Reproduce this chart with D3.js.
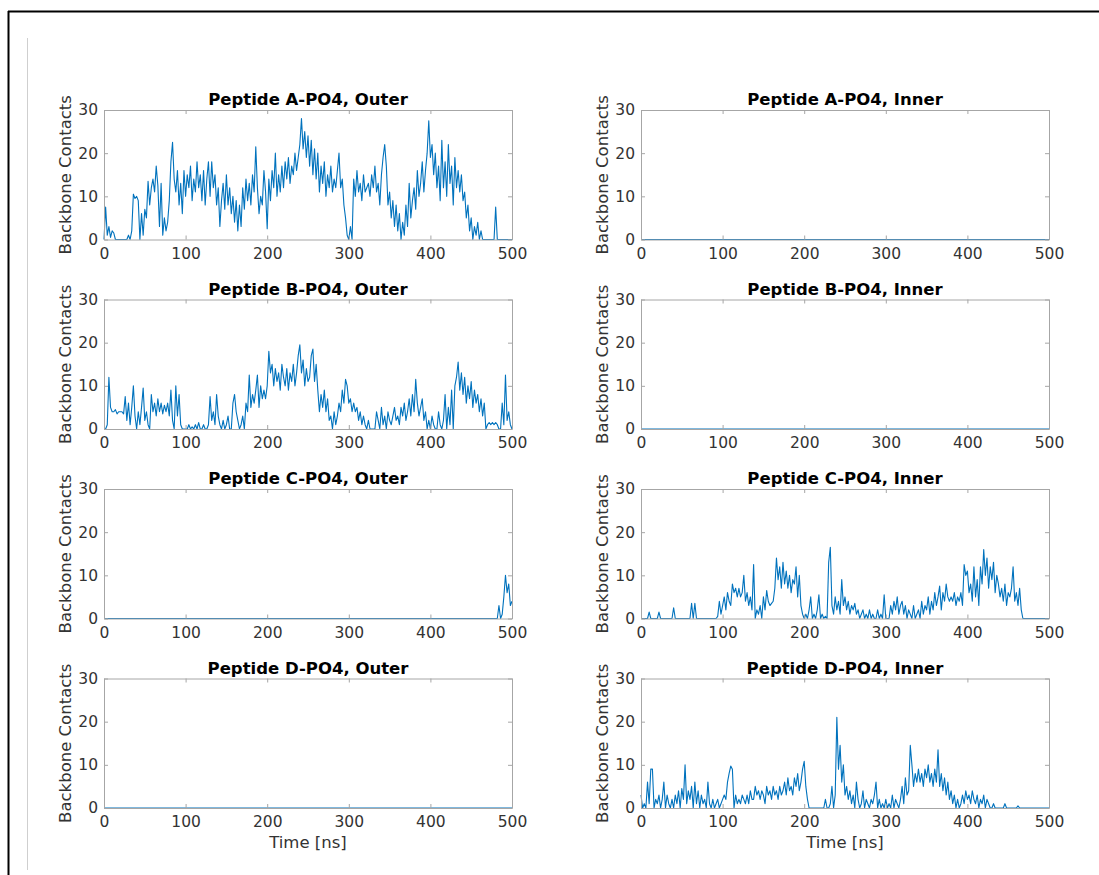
<!DOCTYPE html>
<html>
<head>
<meta charset="utf-8">
<script src="https://cdn.jsdelivr.net/npm/d3@7"></script>
<style>
  html, body { margin: 0; padding: 0; background: #fff; }
  svg { display: block; }
  text { font-family: "DejaVu Sans", sans-serif; }
</style>
</head>
<body>
<svg id="chart" width="1099" height="875"></svg>
<script>
const xTicks = [0, 100, 200, 300, 400, 500];
const yTicks = [0, 10, 20, 30];
const xLabel = "Time [ns]";
const yLabel = "Backbone Contacts";
const titles = [
  "Peptide A-PO4, Outer", "Peptide A-PO4, Inner",
  "Peptide B-PO4, Outer", "Peptide B-PO4, Inner",
  "Peptide C-PO4, Outer", "Peptide C-PO4, Inner",
  "Peptide D-PO4, Outer", "Peptide D-PO4, Inner"
];

const aOuter = [
  0, 7.5, 1, 3, 0.5, 2, 1.5, 0, 0, 0,
  0, 0, 0, 0, 0, 1, 0, 2, 10.5, 9.5,
  10, 9, 0, 6, 1, 7, 5, 13.5, 8, 12,
  14, 11, 17, 12.5, 3, 13, 1, 5, 2, 4,
  9, 18, 22.5, 14, 11, 16, 8, 13, 6, 16,
  10, 15, 12, 17, 9, 14, 11, 18, 12, 15,
  9, 16, 8, 14, 18, 10, 18, 12, 15, 8,
  12, 3, 9, 13, 7, 15, 8, 12, 6, 10,
  4, 9, 2, 8, 3, 12, 7, 14, 9, 13,
  8, 15, 11, 21.5, 12, 6, 10, 8, 16, 11,
  2.5, 14, 9, 16, 12, 20, 10, 15, 11, 17,
  12, 18, 14, 19, 13, 17, 15, 20, 16, 19,
  22, 28, 21, 25, 19, 24, 17, 23, 15, 21,
  14, 20, 11, 17, 13, 18, 10, 15, 12, 17,
  11, 14, 12, 16, 20, 12, 14, 8, 5, 1,
  0, 3, 0, 14, 10, 16, 11, 13, 9, 15,
  11, 12, 13, 10, 15, 12, 17, 11, 13, 8,
  15, 19, 22, 17, 8, 11, 5, 9, 3, 8,
  2, 6, 0, 4, 1, 8, 3, 13, 5, 9,
  12, 7, 16, 10, 13, 18, 11, 16, 20, 27.5,
  19, 22, 15, 20, 12, 17, 9, 23, 12, 18,
  10, 22, 13, 17, 8, 19, 12, 16, 11, 15,
  9, 11, 5, 8, 2, 5, 0, 3, 1, 4,
  0, 2, 0, 0, 0, 0, 0, 0, 0, 0,
  7.5, 0, 0, 0, 0, 0, 0, 0, 0, 0,
  0
];

const bOuter = [
  0, 0, 1, 12, 5, 4, 4, 4.5, 3.5, 4,
  4, 4, 3.5, 7.5, 2, 6, 1, 5, 10, 3,
  0, 4, 1, 5, 9.5, 2, 4, 1, 0, 8,
  4, 6, 3, 7, 4, 6, 3.5, 5.5, 4, 6,
  3, 9, 2, 0, 10, 3, 8, 1, 0, 0,
  0, 0, 1, 0, 0.5, 0, 1, 0, 1.5, 0,
  0, 1, 0, 0, 1, 7.5, 2, 4, 1, 8,
  3, 1, 0, 2, 0, 1, 3, 0, 0, 6,
  8, 4, 2, 0, 1, 3, 0, 6, 4, 12.5,
  5, 8, 6, 9, 12.5, 5, 10, 7, 9, 7,
  10, 18, 13, 15, 10, 14, 11, 13, 9, 15,
  12, 10, 14, 9, 13, 11, 15, 10, 13, 17,
  19.5, 13, 16, 10, 14, 11, 12, 17, 18.5, 11,
  15, 9, 4, 8, 5, 9, 4, 7, 2, 3,
  0, 4, 1, 3, 6, 4, 9, 6, 11.5, 10,
  6, 7, 4, 6, 4, 5, 2, 4, 1, 3,
  1, 0, 2, 0, 0, 0, 0, 4, 2, 0,
  5, 1, 3, 0, 4, 2, 1, 3, 5, 2,
  3, 1, 5, 3, 6, 2, 4, 7, 3, 8,
  4, 11.5, 6, 3, 5, 7, 2, 4, 0, 2,
  0, 3, 1, 0, 0, 4, 1, 0, 2, 8,
  0, 5, 1, 9, 0, 10, 12, 15.5, 9, 13,
  8, 12, 6, 10, 7, 11, 5, 9, 6, 8,
  4, 7, 3, 6, 0, 1, 1.5, 1, 1.5, 1,
  1.5, 1, 0, 0, 6, 1, 12.5, 2, 4, 1,
  0
];

const cOuterTail = [0, 0, 3, 0, 1, 5, 10, 6, 8, 3, 4]; // 480..500 ns, 2 ns step
const cOuterTailStart = 480;

const cInner = [
  0, 0, 0, 0, 0, 1.5, 0, 0, 0, 0,
  0, 1.5, 0, 0, 0, 0, 0, 0, 0, 0,
  2.5, 0, 0, 0, 0, 0, 0, 0, 0, 0,
  0, 3.5, 0, 3.5, 0, 0, 0, 0, 0, 0,
  0, 0, 0, 0, 0, 0, 0, 0.5, 4, 1,
  3, 5, 2, 6, 4, 3, 8, 6, 7, 5,
  7, 5, 6, 10, 4, 6, 3, 5, 2, 12.5,
  0, 2, 1, 3, 0, 5, 2, 6.5, 4, 3,
  3.5, 4, 7, 14, 9, 12, 7, 13, 8, 11,
  7, 10, 6, 9, 8, 12, 5, 10, 3, 1,
  0, 1, 0, 2, 5, 0, 1, 0, 2, 5.5,
  0, 1, 0, 0.5, 0, 13, 16.5, 3, 1, 5,
  2, 4, 1, 9, 3, 5, 2, 4, 1, 3,
  2, 3.5, 1, 2, 0, 1, 2, 0, 1, 0,
  2, 0, 1, 0, 0, 2, 0, 1, 0, 5.5,
  0, 0, 0, 3, 1, 4, 2, 5, 1, 3,
  4, 1, 3, 0, 2, 1, 0, 3, 0, 1,
  2, 0, 4, 1, 3, 2, 5, 1, 4, 2,
  6, 3, 5, 7.5, 2, 6, 4, 8, 5, 4,
  5, 4, 6, 3, 5, 4, 6, 3, 12.5, 10,
  11, 6, 8, 4, 12, 5, 9, 3, 12, 8,
  16, 10, 14, 7, 12, 9, 13, 6, 10, 8,
  5, 7, 4, 8, 3, 6, 5, 7, 12, 4,
  6, 3, 7, 2, 0, 0, 0, 0, 0, 0,
  0, 0, 0, 0, 0, 0, 0, 0, 0, 0,
  0
];

const dInner = [
  3, 0, 1, 0, 6, 1, 9, 9, 0, 2,
  1, 3, 0, 2, 6, 0, 3, 1, 0, 2,
  0, 3, 1, 4, 0, 4.5, 2, 10, 1, 4,
  2, 5, 0, 6, 1, 4, 0, 3, 1, 2,
  0, 6, 1, 0, 2, 0, 1, 2, 0, 1,
  2, 3, 2, 6, 8, 9.7, 9, 0, 3, 1,
  2, 1, 3, 2, 1, 3, 1, 4, 2, 2,
  5, 3, 4, 2, 4, 3, 1, 5, 3, 4,
  2, 5, 3, 4, 2, 5, 3, 4, 6, 3,
  7, 4, 5, 3, 7, 5, 8, 4, 6, 9,
  10.8, 5, 2, 0, 0, 0, 0, 0, 0, 0,
  0, 0, 0, 2, 0, 0, 1, 5, 0, 3,
  21, 9, 14.5, 6, 10, 3, 5, 2, 4, 1,
  3, 0, 6, 2, 0, 1, 4, 0, 2, 1,
  0, 2, 1, 3, 6, 0, 2, 0, 1, 0,
  2, 0, 1, 0, 3, 0, 2, 1, 0, 2,
  5, 1, 7, 3, 4, 14.5, 10, 5, 8, 6,
  9, 6, 8, 5, 9, 7, 10, 6, 8, 5,
  9, 6, 13.5, 5, 8, 4, 7, 3, 6, 2,
  4, 1, 3, 0, 2, 0, 1, 3, 1, 4,
  2, 3, 1, 4, 2, 1, 3, 0, 2, 1,
  3, 0, 2, 1, 0, 0, 1, 0, 0, 0,
  0, 0, 0, 1, 0, 0, 0, 0, 0, 0,
  0, 0.5, 0, 0, 0, 0, 0, 0, 0, 0,
  0, 0, 0, 0, 0, 0, 0, 0, 0, 0,
  0
];

const flatZero = [0, 0]; // constant zero line from 0 to 500 ns
const stepNs = 2;

// ---- build point lists ----
function sampled(values, start, step) {
  return values.map((v, i) => ({ t: start + i * step, v: v }));
}
const cOuterPts = [{ t: 0, v: 0 }].concat(sampled(cOuterTail, cOuterTailStart, stepNs));
const panels = [
  sampled(aOuter, 0, stepNs), sampled(flatZero, 0, 500),
  sampled(bOuter, 0, stepNs), sampled(flatZero, 0, 500),
  cOuterPts, sampled(cInner, 0, stepNs),
  sampled(flatZero, 0, 500), sampled(dInner, 0, stepNs)
];

// ---- layout ----
const svg = d3.select("#chart");
const colX = [104, 641];
const plotW = 408;
const rowY = [110, 299.5, 489, 678.5];
const plotH = 129.5;

// frame decorations
svg.append("line").attr("x1", 8).attr("x2", 1099).attr("y1", 11.5).attr("y2", 11.5)
  .attr("stroke", "#000").attr("stroke-width", 2);
svg.append("line").attr("x1", 8.5).attr("x2", 8.5).attr("y1", 11).attr("y2", 875)
  .attr("stroke", "#000").attr("stroke-width", 2);
svg.append("line").attr("x1", 27.5).attr("x2", 27.5).attr("y1", 38).attr("y2", 870)
  .attr("stroke", "#cfcfcf").attr("stroke-width", 1);

const x = d3.scaleLinear().domain([0, 500]).range([0, plotW]);
const y = d3.scaleLinear().domain([0, 30]).range([plotH, 0]);
const axisColor = "#a6a6a6";
const textColor = "#333";
const tickFont = "15.5px";
const labelFont = "16.5px";

panels.forEach((pts, idx) => {
  const col = idx % 2, row = Math.floor(idx / 2);
  const g = svg.append("g").attr("transform", `translate(${colX[col]},${rowY[row]})`);

  // data line
  g.append("path")
    .datum(pts)
    .attr("fill", "none")
    .attr("stroke", "#0072BD")
    .attr("stroke-width", 1.1)
    .attr("stroke-linejoin", "round")
    .attr("d", d3.line().x(d => x(d.t)).y(d => y(d.v)));

  // axes: bottom/left with labels, top/right ticks only (inward ticks)
  const bottom = g.append("g").attr("transform", `translate(0,${plotH})`)
    .call(d3.axisBottom(x).tickValues(xTicks).tickSizeInner(-4).tickSizeOuter(0).tickPadding(8));
  const left = g.append("g")
    .call(d3.axisLeft(y).tickValues(yTicks).tickSizeInner(-4).tickSizeOuter(0).tickPadding(6));
  const top = g.append("g")
    .call(d3.axisTop(x).tickValues(xTicks).tickSizeInner(-4).tickSizeOuter(0).tickFormat(""));
  const right = g.append("g").attr("transform", `translate(${plotW},0)`)
    .call(d3.axisRight(y).tickValues(yTicks).tickSizeInner(-4).tickSizeOuter(0).tickFormat(""));
  [bottom, left, top, right].forEach(a => {
    a.select(".domain").attr("stroke", axisColor);
    a.selectAll(".tick line").attr("stroke", axisColor);
    a.selectAll(".tick text").attr("fill", textColor)
      .style("font-size", tickFont).style("font-family", "'DejaVu Sans', sans-serif");
  });

  // title
  g.append("text")
    .attr("x", plotW / 2).attr("y", -5)
    .attr("text-anchor", "middle")
    .style("font-size", labelFont).style("font-weight", "bold")
    .attr("fill", "#000")
    .text(titles[idx]);

  // y label
  g.append("text")
    .attr("transform", `translate(${-33},${plotH / 2}) rotate(-90)`)
    .attr("text-anchor", "middle")
    .style("font-size", labelFont)
    .attr("fill", textColor)
    .text(yLabel);

  if (row === 3) {
    g.append("text")
      .attr("x", plotW / 2).attr("y", plotH + 40)
      .attr("text-anchor", "middle")
      .style("font-size", labelFont)
      .attr("fill", textColor)
      .text(xLabel);
  }
});
</script>
</body>
</html>
